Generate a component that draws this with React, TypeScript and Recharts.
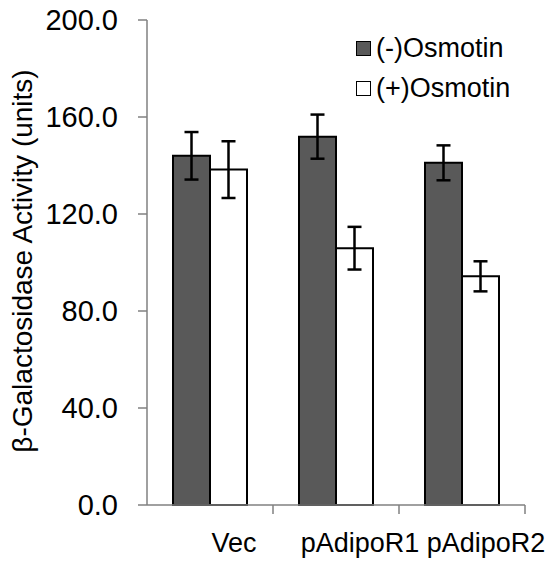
import { BarChart, Bar, XAxis, YAxis, ErrorBar, Legend } from "recharts";

const categories = ["Vec", "pAdipoR1", "pAdipoR2"];
const minusOsmotin = [144, 151.9, 141.1];
const plusOsmotin = [138.3, 105.9, 94.3];
const minusErr = [9.8, 9.1, 7.2];
const plusErr = [11.7, 8.8, 6.2];
const yTicks = [0, 40, 80, 120, 160, 200];
const seriesNames = ["(-)Osmotin", "(+)Osmotin"];

const data = categories.map((name, i) => ({
  name,
  minus: minusOsmotin[i],
  plus: plusOsmotin[i],
  minusErr: minusErr[i],
  plusErr: plusErr[i],
}));

const FONT = "'Liberation Sans', Arial, sans-serif";
const AXIS_GRAY = "#808080";
const DARK = "#595959";

const CHART_W = 554;
const MARGIN = { top: 20, right: 29, left: 47, bottom: 0 };
const Y_AXIS_W = 100;
const PLOT_W = CHART_W - MARGIN.left - MARGIN.right - Y_AXIS_W;
const X_TICK_MARGIN = 28;

// tick marks sit on the category boundaries, labels are shifted right
const XTick = (props: any) => {
  const { x, y, payload } = props;
  const off = PLOT_W / categories.length / 2;
  const axisY = y - X_TICK_MARGIN;
  return (
    <g>
      <line x1={x + off} x2={x + off} y1={axisY} y2={axisY + 9} stroke={AXIS_GRAY} strokeWidth={1.5} />
      <text x={x + 24} y={y} dy="0.71em" textAnchor="middle" fontSize={27} fontFamily={FONT} fill="#000">
        {payload.value}
      </text>
    </g>
  );
};

const YLabel = () => (
  <text
    x={32}
    y={261}
    transform="rotate(-90, 32, 261)"
    textAnchor="middle"
    fontSize={28}
    fontFamily={FONT}
    fill="#000"
  >
    β-Galactosidase Activity (units)
  </text>
);

const LegendBox = () => (
  <div style={{ fontFamily: FONT, fontSize: 27, color: "#000", lineHeight: "40px" }}>
    {seriesNames.map((n, i) => (
      <div key={n} style={{ display: "flex", alignItems: "center", whiteSpace: "nowrap" }}>
        <span
          style={{
            display: "inline-block",
            width: 13,
            height: 13,
            border: "1.5px solid #000",
            background: i === 0 ? DARK : "#fff",
            marginRight: 5,
          }}
        />
        {n}
      </div>
    ))}
  </div>
);

export default function App() {
  return (
    <div style={{ position: "absolute", left: 0, top: 0 }}>
      <BarChart width={CHART_W} height={565} data={data} margin={MARGIN} barGap={0} barSize={37}>
        <XAxis
          dataKey="name"
          height={60}
          tickSize={0}
          tickMargin={X_TICK_MARGIN}
          tick={<XTick />}
          axisLine={{ stroke: AXIS_GRAY, strokeWidth: 1.5 }}
          interval={0}
        />
        <YAxis
          width={Y_AXIS_W}
          domain={[0, 200]}
          ticks={yTicks}
          tickFormatter={(v: number) => v.toFixed(1)}
          tickSize={9}
          tickMargin={20}
          tick={{ fontSize: 29, fontFamily: FONT, fill: "#000" }}
          axisLine={{ stroke: AXIS_GRAY, strokeWidth: 1.5 }}
          tickLine={{ stroke: AXIS_GRAY, strokeWidth: 1.5 }}
          label={<YLabel />}
        />
        <Legend
          layout="horizontal"
          verticalAlign="middle"
          align="center"
          content={<LegendBox />}
          wrapperStyle={{ top: 28, left: 356, width: 190 }}
        />
        <Bar dataKey="minus" name={seriesNames[0]} fill={DARK} stroke="#000" strokeWidth={2} isAnimationActive={false}>
          <ErrorBar dataKey="minusErr" width={7} stroke="#000" strokeWidth={2.5} />
        </Bar>
        <Bar dataKey="plus" name={seriesNames[1]} fill="#fff" stroke="#000" strokeWidth={2} isAnimationActive={false}>
          <ErrorBar dataKey="plusErr" width={7} stroke="#000" strokeWidth={2.5} />
        </Bar>
      </BarChart>
    </div>
  );
}
